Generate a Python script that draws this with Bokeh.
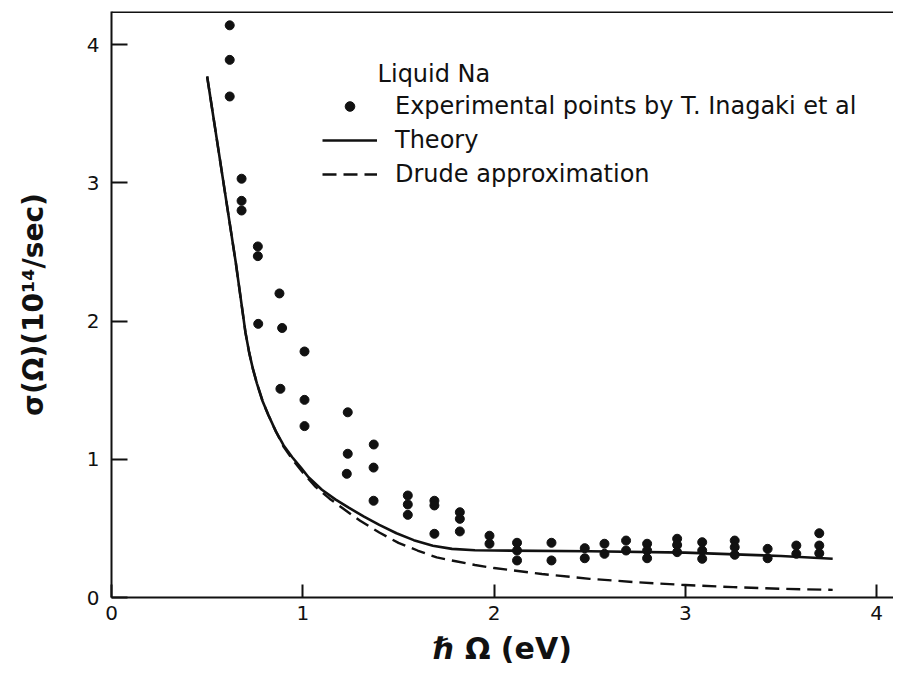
from bokeh.plotting import figure
from bokeh.models import Range1d, Span, Label, Legend, LegendItem, FixedTicker
from bokeh.embed import file_html
from bokeh.resources import INLINE

# Experimental points (T. Inagaki et al), grouped by photon energy
exp_x = [0.618, 0.618, 0.618,
         0.68, 0.68, 0.68,
         0.765, 0.765, 0.767,
         0.878, 0.892, 0.883,
         1.009, 1.009, 1.009,
         1.235, 1.235, 1.23,
         1.371, 1.37, 1.37,
         1.549, 1.549, 1.549,
         1.688, 1.688, 1.688,
         1.821, 1.821, 1.821,
         1.976, 1.976,
         2.12, 2.12, 2.12,
         2.30, 2.30,
         2.474, 2.474,
         2.577, 2.577,
         2.69, 2.69,
         2.80, 2.80, 2.80,
         2.957, 2.957, 2.957,
         3.088, 3.088, 3.088,
         3.258, 3.258, 3.258,
         3.43, 3.43,
         3.58, 3.58,
         3.70, 3.70, 3.70]
exp_y = [4.14, 3.89, 3.625,
         3.03, 2.87, 2.80,
         2.54, 2.47, 1.98,
         2.20, 1.95, 1.51,
         1.78, 1.43, 1.24,
         1.34, 1.04, 0.895,
         1.107, 0.94, 0.70,
         0.738, 0.673, 0.598,
         0.70, 0.666, 0.461,
         0.617, 0.569, 0.478,
         0.447, 0.389,
         0.396, 0.34, 0.268,
         0.396, 0.268,
         0.357, 0.284,
         0.389, 0.316,
         0.412, 0.34,
         0.389, 0.34, 0.284,
         0.425, 0.38, 0.328,
         0.40, 0.34, 0.28,
         0.412, 0.364, 0.309,
         0.352, 0.284,
         0.376, 0.316,
         0.465, 0.376, 0.32]

# Theory curve
theory_x = [0.50, 0.55, 0.60, 0.65, 0.675, 0.70, 0.72, 0.74, 0.76, 0.79,
            0.82, 0.86, 0.90, 0.945, 0.99, 1.03, 1.10, 1.17, 1.24, 1.32,
            1.40, 1.49, 1.58, 1.68, 1.78, 1.90, 2.00, 2.50, 3.00, 3.50, 3.77]
theory_y = [3.77, 3.32, 2.87, 2.42, 2.17, 1.92, 1.77, 1.65, 1.55, 1.42,
            1.32, 1.20, 1.10, 1.015, 0.94, 0.87, 0.78, 0.71, 0.65, 0.585,
            0.525, 0.465, 0.415, 0.375, 0.352, 0.342, 0.340, 0.335, 0.325, 0.30, 0.28]

# Drude approximation
drude_x = [0.50, 0.55, 0.60, 0.65, 0.675, 0.70, 0.72, 0.74, 0.76, 0.79,
           0.82, 0.86, 0.90, 0.945, 1.00, 1.067, 1.14, 1.214, 1.30, 1.40,
           1.50, 1.60, 1.70, 1.80, 1.90, 2.00, 2.25, 2.50, 2.75, 3.00,
           3.25, 3.50, 3.77]
drude_y = [3.77, 3.32, 2.87, 2.42, 2.17, 1.92, 1.77, 1.65, 1.55, 1.42,
           1.32, 1.20, 1.09, 1.00, 0.905, 0.80, 0.715, 0.64, 0.555, 0.47,
           0.395, 0.34, 0.29, 0.262, 0.235, 0.213, 0.17, 0.135, 0.11, 0.09,
           0.075, 0.063, 0.055]

x_ticks = [0, 1, 2, 3, 4]
y_ticks = [0, 1, 2, 3, 4]

FONT = "DejaVu Sans"
INK = "#111111"

p = figure(frame_width=782, frame_height=586,
           x_range=Range1d(0, 4.088), y_range=Range1d(0, 4.24),
           output_backend="svg", toolbar_location=None,
           min_border_left=111, min_border_top=11, min_border_right=0,
           min_border_bottom=60, background_fill_color="white",
           border_fill_color="white")
p.outline_line_color = None
p.grid.visible = False

for ax in (p.xaxis[0], p.yaxis[0]):
    ax.axis_line_width = 2
    ax.axis_line_color = INK
    ax.major_tick_line_width = 2
    ax.major_tick_line_color = INK
    ax.major_tick_out = 0
    ax.minor_tick_line_color = None
    ax.major_label_text_font = FONT
    ax.major_label_text_font_size = "20px"
    ax.major_label_text_color = INK
    ax.axis_label_text_font = FONT
    ax.axis_label_text_font_style = "bold"
    ax.axis_label_text_color = INK

p.xaxis.ticker = FixedTicker(ticks=x_ticks)
p.yaxis.ticker = FixedTicker(ticks=y_ticks)
p.xaxis.major_tick_in = 13
p.yaxis.major_tick_in = 16
p.xaxis.major_label_standoff = 8
p.yaxis.major_label_standoff = 12
p.xaxis.axis_label = "ℏ Ω (eV)"
p.xaxis.axis_label_text_font_size = "30px"
p.xaxis.axis_label_standoff = 8
p.yaxis.axis_label = "σ(Ω)(10¹⁴/sec)"
p.yaxis.axis_label_text_font_size = "28px"
p.yaxis.axis_label_standoff = 34

# top frame line
p.add_layout(Span(location=4.236, dimension="width", line_color=INK, line_width=2))

r_th = p.line(theory_x, theory_y, line_color=INK, line_width=2.6, line_join="round")
r_dr = p.line(drude_x, drude_y, line_color=INK, line_width=2.4, line_dash="14 7",
              line_join="round")
r_ex = p.scatter(exp_x, exp_y, marker="circle", size=9, fill_color=INK,
                 line_color=INK)

p.add_layout(Label(x=1.391, y=3.79, text="Liquid Na", text_font=FONT,
                   text_font_size="24px", text_color=INK, text_baseline="middle"))

legend = Legend(items=[
    LegendItem(label="Experimental points by T. Inagaki et al", renderers=[r_ex]),
    LegendItem(label="Theory", renderers=[r_th]),
    LegendItem(label="Drude approximation", renderers=[r_dr]),
], location=(211, 409), glyph_width=55, glyph_height=24, label_standoff=18,
    label_text_font=FONT, label_text_font_size="24px", label_text_color=INK,
    spacing=6, padding=0, margin=0, border_line_color=None,
    background_fill_alpha=0)
p.add_layout(legend)

open("out.html", "w").write(file_html(p, INLINE))
